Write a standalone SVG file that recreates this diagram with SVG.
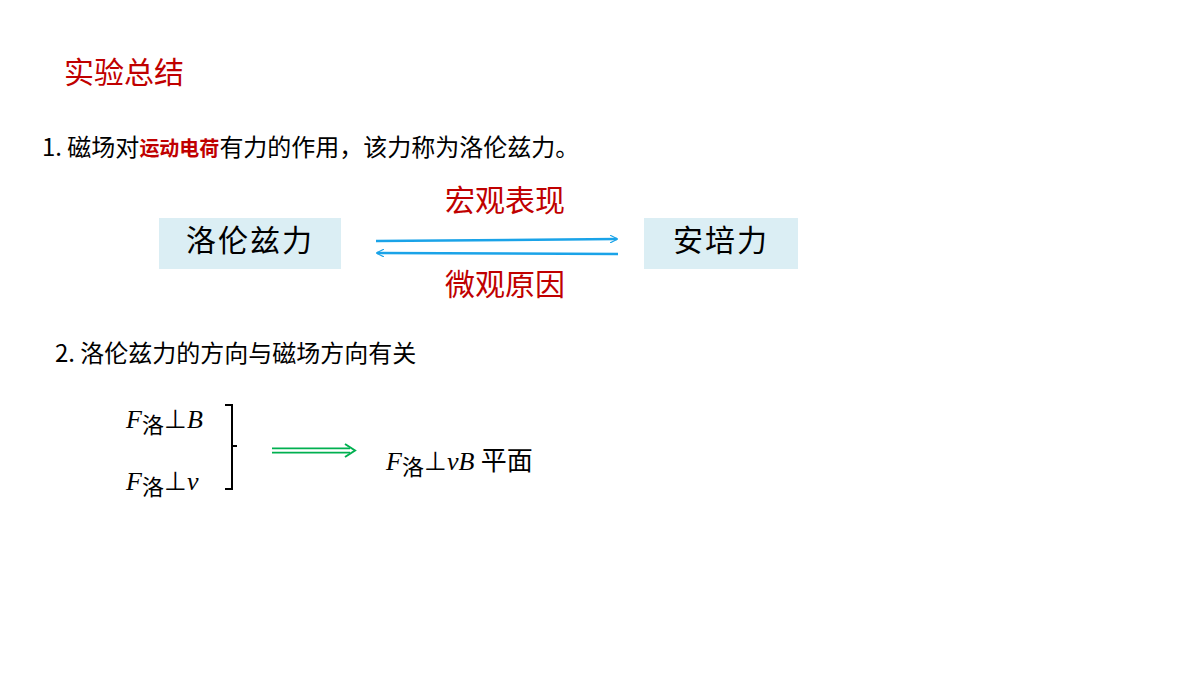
<svg xmlns="http://www.w3.org/2000/svg" width="1200" height="675" viewBox="0 0 1200 675">
<style>
.t{font-family:"Noto Sans CJK SC","Noto Sans CJK JP",sans-serif;fill:#000}
.r{fill:#c00000}
.m{font-family:"Liberation Serif",serif;font-style:italic;fill:#000}
.box{fill:#dbeef4}
</style>
<defs>
<marker id="a" viewBox="0 0 10 10" refX="9" refY="5" markerWidth="8" markerHeight="8" orient="auto" markerUnits="userSpaceOnUse"><path d="M0,0L10,5L0,10" fill="none" stroke="#1aa3e8" stroke-width="1.5"/></marker>
</defs>
<rect width="1200" height="675" fill="#fff"/>
<text x="64" y="83" class="t r" font-size="30">实验总结</text>
<text x="42" y="156" class="t" font-size="24">1. 磁场对<tspan class="r" font-size="20" font-weight="bold">运动电荷</tspan>有力的作用，该力称为洛伦兹力。</text>
<g id="n1"><rect class="box" x="159" y="218" width="182" height="51"/><text x="250" y="251" class="t" font-size="30" text-anchor="middle" letter-spacing="2">洛伦兹力</text></g>
<g id="n2"><rect class="box" x="644" y="218" width="154" height="51"/><text x="721" y="251" class="t" font-size="30" text-anchor="middle" letter-spacing="2">安培力</text></g>
<text x="505" y="211" class="t r" font-size="30" text-anchor="middle">宏观表现</text>
<text x="505" y="295" class="t r" font-size="30" text-anchor="middle">微观原因</text>
<g id="connectors" stroke="#1aa3e8" stroke-width="2.5" fill="none">
<line x1="376" y1="241" x2="617" y2="239" marker-end="url(#a)"/>
<line x1="618" y1="254" x2="377" y2="253" marker-end="url(#a)"/>
<path d="M272,450.5H350" stroke="#00b050" stroke-width="6"/>
<path d="M272,450.5H350" stroke="#fff" stroke-width="2.5"/>
<path d="M345,444L355,450.5L345,457" stroke="#00b050" stroke-width="2"/>
</g>
<text x="55" y="362" class="t" font-size="24">2. 洛伦兹力的方向与磁场方向有关</text>
<text x="126" y="428" class="m" font-size="26">F<tspan class="t" font-style="normal" font-size="22" dy="5">洛</tspan><tspan font-style="normal" dy="-5">⊥</tspan>B</text>
<text x="126" y="490" class="m" font-size="26">F<tspan class="t" font-style="normal" font-size="22" dy="5">洛</tspan><tspan font-style="normal" dy="-5">⊥</tspan>v</text>
<path d="M225,405H232V489H225M232,446H237" stroke="#000" stroke-width="2" fill="none"/>
<text x="386" y="470" class="m" font-size="26">F<tspan class="t" font-style="normal" font-size="22" dy="5">洛</tspan><tspan font-style="normal" dy="-5">⊥</tspan>vB <tspan class="t" font-style="normal" font-size="26">平面</tspan></text>
</svg>
